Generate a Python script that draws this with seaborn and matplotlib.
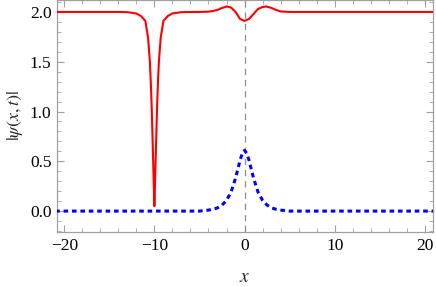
import matplotlib
matplotlib.use("Agg")
import matplotlib.pyplot as plt
import seaborn as sns
import pandas as pd
from matplotlib.ticker import MultipleLocator

# |psi| (red, solid)
red_x = [-21, -14, -13, -12, -11.5, -11.0, -10.7, -10.5, -10.4, -10.3, -10.2, -10.1, -10.0,
         -9.9, -9.8, -9.7, -9.6, -9.5, -9.3, -9.0, -8.5, -8.0, -7.0,
         -5, -4, -3.5, -3, -2.5, -2, -1.5, -1, -0.5, 0, 0.5, 1, 1.5, 2, 2.4, 3, 3.5, 4, 5, 21]
red_y = [2.0, 2.0, 1.998, 1.985, 1.96, 1.91, 1.74, 1.5, 1.3, 1.05, 0.72, 0.38, 0.05,
         0.38, 0.72, 1.05, 1.3, 1.5, 1.74, 1.91, 1.96, 1.985, 1.998,
         2.0, 2.003, 2.01, 2.02, 2.04, 2.055, 2.045, 2.0, 1.93, 1.91, 1.93, 1.98, 2.03, 2.05, 2.055, 2.04, 2.02, 2.005, 2.0, 2.0]

# second component (blue, dotted)
blue_x = [-21, -5, -4, -3.5, -3, -2.5, -2, -1.5, -1, -0.5, -0.25, 0, 0.25, 0.5, 1, 1.5, 2, 2.5, 3, 3.5, 4, 5, 21]
blue_y = [0.0, 0.0, 0.01, 0.018, 0.032, 0.06, 0.108, 0.19, 0.33, 0.51, 0.58, 0.61, 0.58, 0.51, 0.33, 0.19, 0.108, 0.06, 0.032, 0.018, 0.01, 0.0, 0.0]

x_ticks = [-20, -10, 0, 10, 20]
y_ticks = [0.0, 0.5, 1.0, 1.5, 2.0]

sns.set_style("ticks")
plt.rcParams['font.family'] = ['Liberation Serif', 'DejaVu Serif']
plt.rcParams['mathtext.fontset'] = 'stix'

fig = plt.figure(figsize=(4.36, 2.87), dpi=100)
ax = fig.add_axes([57/436, 1 - 232/287, (433-57)/436, 232/287])

red_df = pd.DataFrame({"x": red_x, "y": red_y})
blue_df = pd.DataFrame({"x": blue_x, "y": blue_y})

ax.axvline(0, color="#8c8c8c", lw=0.9, ls=(0, (5, 4)), zorder=1)
sns.lineplot(data=red_df, x="x", y="y", ax=ax, color="#ff0000", lw=1.5, sort=False, zorder=3)
sns.lineplot(data=blue_df, x="x", y="y", ax=ax, color="#0000ff", lw=2.2, sort=False,
             linestyle=(0, (1.5, 1.25)), zorder=3)

ax.set_xlim(-20.8, 20.9)
ax.set_ylim(-0.21, 2.12)
ax.set_xticks(x_ticks)
ax.set_xticklabels([("\u2212" + str(abs(t))) if t < 0 else str(t) for t in x_ticks])
ax.set_yticks(y_ticks)
ax.set_yticklabels([f"{t:.1f}" for t in y_ticks])
ax.xaxis.set_minor_locator(MultipleLocator(2))
ax.yaxis.set_minor_locator(MultipleLocator(0.1))

frame_c = "#a0a0a0"
for s in ax.spines.values():
    s.set_color(frame_c)
    s.set_linewidth(0.9)
ax.tick_params(which="both", direction="in", top=True, right=True, color=frame_c,
               labelsize=12.5, labelcolor="black")
ax.tick_params(which="major", length=5, width=0.8, pad=4)
ax.tick_params(which="minor", length=3, width=0.6)

ax.set_xlabel("")
ax.set_ylabel("")
fig.text(245/436, 1 - 277/287, "$x$", fontsize=14, ha="center", va="center")
fig.text(15/436, 1 - 116/287, r"$|\psi(x,t)|$", fontsize=13, ha="center", va="center",
         rotation=90)

fig.savefig("out.png", dpi=100)
